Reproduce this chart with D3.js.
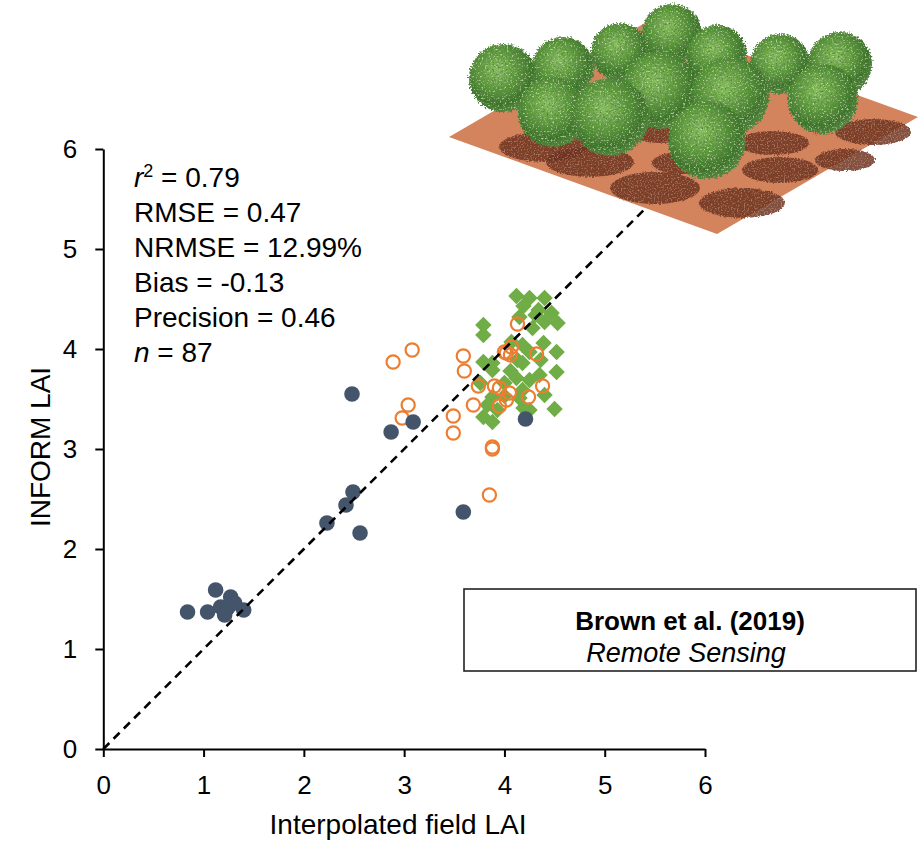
<!DOCTYPE html>
<html><head><meta charset="utf-8">
<script src="https://cdn.jsdelivr.net/npm/d3@7/dist/d3.min.js"></script>
<style>
html,body{margin:0;padding:0;background:#fff;}
svg{display:block;font-family:"Liberation Sans",Arial,sans-serif;}
</style></head>
<body>
<svg id="chart" width="918" height="842"></svg>
<script>
// ---- Data (Interpolated field LAI, INFORM LAI) ----
const blueX = [0.84,1.04,1.12,1.27,1.17,1.24,1.21,1.40,1.31,2.48,2.87,3.09,2.23,2.42,2.49,2.56,3.59,4.21];
const blueY = [1.37,1.37,1.59,1.52,1.42,1.41,1.34,1.39,1.46,3.55,3.17,3.27,2.26,2.44,2.57,2.16,2.37,3.30];

const orangeX = [2.89,3.08,3.04,2.98,3.59,3.60,3.49,3.49,3.69,3.74,3.88,3.88,3.85,3.90,3.95,4.05,4.02,3.95,4.13,4.07,4.02,4.06,4.00,4.32,4.24,4.38];
const orangeY = [3.87,3.99,3.44,3.31,3.93,3.78,3.33,3.16,3.44,3.63,3.02,3.00,2.54,3.63,3.61,3.56,3.49,3.43,4.25,4.02,3.96,3.94,3.97,3.95,3.52,3.63];

const greenX = [4.12,4.25,4.40,4.19,4.34,4.47,4.15,4.40,4.53,4.28,3.79,3.79,4.07,4.18,4.25,4.39,4.52,4.13,3.88,3.79,3.88,4.18,4.52,4.12,4.35,3.76,4.00,4.25,4.18,3.88,4.00,4.40,4.15,3.83,3.93,4.19,4.25,4.50,3.79,3.88,4.06,4.36,4.31];
const greenY = [4.53,4.51,4.51,4.43,4.39,4.36,4.32,4.27,4.26,4.21,4.24,4.14,4.07,4.04,3.97,4.06,3.97,3.89,3.86,3.87,3.79,3.86,3.77,3.71,3.74,3.66,3.66,3.69,3.59,3.52,3.53,3.54,3.51,3.44,3.39,3.41,3.39,3.40,3.32,3.27,3.78,3.89,4.34];

const xTicks = [0,1,2,3,4,5,6];
const yTicks = [0,1,2,3,4,5,6];
const xTitle = "Interpolated field LAI";
const yTitle = "INFORM LAI";
const statLines = [
  ["r","2"," = 0.79"],
  ["","","RMSE = 0.47"],
  ["","","NRMSE = 12.99%"],
  ["","","Bias = -0.13"],
  ["","","Precision = 0.46"],
  ["n",""," = 87"]
];
const citeTitle = "Brown et al. (2019)";
const citeJournal = "Remote Sensing";

// ---- Illustration (decorative tree canopy scene) ----
const groundPts = [[449,137],[717,234],[918,117],[650,20]];
const shadows = [[543,147,44,15],[590,162,44,15],[655,188,45,16],[742,203,43,15],[780,170,38,13],[773,143,36,12],[873,132,38,13],[845,160,30,11],[682,163,30,11],[660,133,30,10]];
const trees = [[672,34,30],[620,52,29],[717,55,30],[780,64,30],[840,64,32],[563,68,31],[503,78,34],[660,90,39],[730,96,39],[823,99,35],[553,112,35],[610,117,39],[707,140,39]];

const svg = d3.select("#chart");
const x = d3.scaleLinear().domain([0,6]).range([103.3,705]);
const y = d3.scaleLinear().domain([0,6]).range([749,149]);

// defs
const defs = svg.append("defs");
const rg = defs.append("radialGradient").attr("id","treeGrad").attr("cx","42%").attr("cy","38%").attr("r","62%");
[["0%","#8cc262"],["45%","#5e9a3c"],["80%","#3a7228"],["100%","#55843f"]].forEach(s=>rg.append("stop").attr("offset",s[0]).attr("stop-color",s[1]));
const f = defs.append("filter").attr("id","leafy").attr("x","-15%").attr("y","-15%").attr("width","130%").attr("height","130%");
f.append("feTurbulence").attr("type","fractalNoise").attr("baseFrequency","0.55").attr("numOctaves","2").attr("seed","4").attr("result","noise");
f.append("feDisplacementMap").attr("in","SourceGraphic").attr("in2","noise").attr("scale","7").attr("xChannelSelector","R").attr("yChannelSelector","G").attr("result","disp");
f.append("feColorMatrix").attr("in","noise").attr("type","matrix").attr("values","0 0 0 0 0.10  0 0 0 0 0.24  0 0 0 0 0.06  3.2 0 0 0 -1.5").attr("result","dark");
f.append("feComposite").attr("in","dark").attr("in2","disp").attr("operator","in").attr("result","darkIn");
f.append("feColorMatrix").attr("in","noise").attr("type","matrix").attr("values","0 0 0 0 0.62  0 0 0 0 0.82  0 0 0 0 0.45  0 3.0 0 0 -1.75").attr("result","light");
f.append("feComposite").attr("in","light").attr("in2","disp").attr("operator","in").attr("result","lightIn");
const fm = f.append("feMerge");
fm.append("feMergeNode").attr("in","disp");
fm.append("feMergeNode").attr("in","darkIn");
fm.append("feMergeNode").attr("in","lightIn");

const fs = defs.append("filter").attr("id","speck").attr("x","-10%").attr("y","-20%").attr("width","120%").attr("height","140%");
fs.append("feTurbulence").attr("type","fractalNoise").attr("baseFrequency","0.7").attr("numOctaves","1").attr("seed","9").attr("result","noise");
fs.append("feDisplacementMap").attr("in","SourceGraphic").attr("in2","noise").attr("scale","4").attr("xChannelSelector","R").attr("yChannelSelector","G").attr("result","disp");
fs.append("feColorMatrix").attr("in","noise").attr("type","matrix").attr("values","0 0 0 0 0.55  0 0 0 0 0.3  0 0 0 0 0.2  3 0 0 0 -1.6").attr("result","sp");
fs.append("feComposite").attr("in","sp").attr("in2","disp").attr("operator","in").attr("result","spIn");
const fsm = fs.append("feMerge");
fsm.append("feMergeNode").attr("in","disp");
fsm.append("feMergeNode").attr("in","spIn");

// axes
const xAxis = d3.axisBottom(x).tickValues(xTicks).tickFormat(d3.format("d")).tickSize(8).tickSizeOuter(0).tickPadding(19);
const yAxis = d3.axisLeft(y).tickValues(yTicks).tickFormat(d3.format("d")).tickSize(8).tickSizeOuter(0).tickPadding(18);
const gx = svg.append("g").attr("transform","translate(0,749)").call(xAxis);
const gy = svg.append("g").attr("transform","translate(103.3,0)").call(yAxis);
[gx,gy].forEach(g=>{
  g.selectAll("path.domain").attr("stroke","#000").attr("stroke-width",2);
  g.selectAll(".tick line").attr("stroke","#000").attr("stroke-width",2);
  g.selectAll(".tick text").attr("fill","#000").style("font-size","26px").style("font-family","'Liberation Sans',Arial,sans-serif");
});

// axis titles
svg.append("text").attr("x",398).attr("y",834).attr("text-anchor","middle").style("font-size","28px").attr("fill","#000").text(xTitle);
svg.append("text").attr("transform","translate(50,447) rotate(-90)").attr("text-anchor","middle").style("font-size","28px").attr("fill","#000").text(yTitle);

// points
const diamond = d3.symbol().type(d3.symbolSquare).size(135);
svg.append("g").selectAll("path").data(greenX.map((v,i)=>[v,greenY[i]])).join("path")
  .attr("d",diamond).attr("transform",d=>`translate(${x(d[0])},${y(d[1])}) rotate(45)`)
  .attr("fill","#70ad47");
svg.append("g").selectAll("circle").data(orangeX.map((v,i)=>[v,orangeY[i]])).join("circle")
  .attr("cx",d=>x(d[0])).attr("cy",d=>y(d[1])).attr("r",6.6)
  .attr("fill","none").attr("stroke","#ed7d31").attr("stroke-width",2.2);
svg.append("g").selectAll("circle").data(blueX.map((v,i)=>[v,blueY[i]])).join("circle")
  .attr("cx",d=>x(d[0])).attr("cy",d=>y(d[1])).attr("r",7.8)
  .attr("fill","#44546a");

// 1:1 line
svg.append("line").attr("x1",x(0)).attr("y1",y(0)).attr("x2",x(6)).attr("y2",y(6))
  .attr("stroke","#000").attr("stroke-width",2.6).attr("stroke-dasharray","8.5,6");

// stats text
statLines.forEach((l,i)=>{
  const t = svg.append("text").attr("x",134).attr("y",187+i*35).style("font-size","28px").attr("fill","#000");
  if(l[0]) t.append("tspan").style("font-style","italic").text(l[0]);
  if(l[1]) t.append("tspan").style("font-size","18px").attr("dy",-10).text(l[1]);
  t.append("tspan").attr("dy",l[1]?10:0).text(l[2]);
});

// citation box
svg.append("rect").attr("x",464).attr("y",589).attr("width",452).attr("height",82)
  .attr("fill","#fff").attr("stroke","#222").attr("stroke-width",1.6);
svg.append("text").attr("x",690).attr("y",630).attr("text-anchor","middle").style("font-size","26px").style("font-weight","bold").attr("fill","#000").text(citeTitle);
svg.append("text").attr("x",686).attr("y",662).attr("text-anchor","middle").style("font-size","27px").style("font-style","italic").attr("fill","#000").text(citeJournal);

// illustration
const ill = svg.append("g");
ill.append("polygon").attr("points",groundPts.map(p=>p.join(",")).join(" ")).attr("fill","#d4845d");
ill.append("g").attr("filter","url(#speck)").selectAll("ellipse").data(shadows).join("ellipse")
  .attr("cx",d=>d[0]).attr("cy",d=>d[1]).attr("rx",d=>d[2]).attr("ry",d=>d[3])
  .attr("fill","#6e3322").attr("opacity",0.85);
ill.selectAll("circle.tree").data(trees).join("circle").attr("class","tree")
  .attr("cx",d=>d[0]).attr("cy",d=>d[1]).attr("r",d=>d[2])
  .attr("fill","url(#treeGrad)").attr("filter","url(#leafy)");
</script>
</body></html>
